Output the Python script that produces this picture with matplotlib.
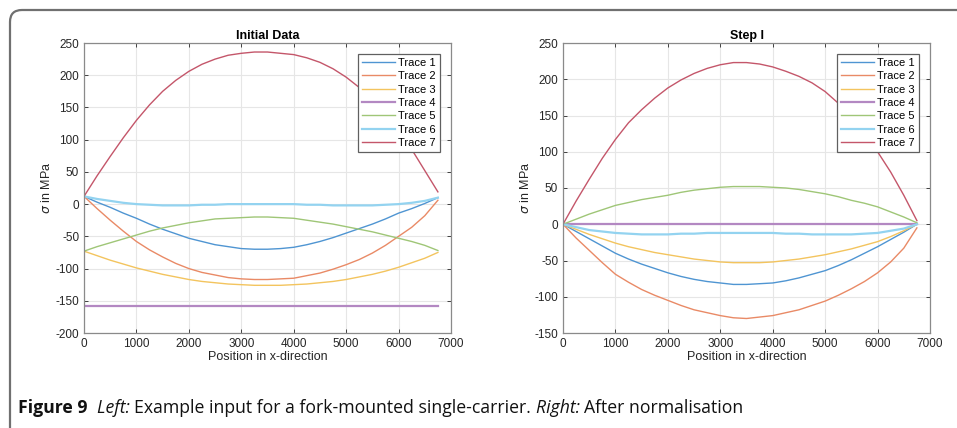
import numpy as np
import matplotlib
matplotlib.use("Agg")
import matplotlib.pyplot as plt
from matplotlib.patches import FancyBboxPatch

plt.rcParams['font.family'] = ['Liberation Sans', 'DejaVu Sans']
plt.rcParams['axes.unicode_minus'] = False

# position along x
x = [0, 250, 500, 750, 1000, 1250, 1500, 1750, 2000, 2250, 2500, 2750, 3000, 3250,
     3500, 3750, 4000, 4250, 4500, 4750, 5000, 5250, 5500, 5750, 6000, 6250, 6500, 6750]

# left panel: Initial Data
init_t1 = [12, 3, -5, -14, -22, -31, -39, -46, -53, -58, -63, -66, -69, -70,
           -70, -69, -67, -63, -58, -52, -45, -38, -31, -23, -14, -7, 1, 10]
init_t2 = [12, -7, -25, -42, -58, -71, -82, -92, -100, -106, -110, -114, -116, -117,
           -117, -116, -115, -111, -107, -101, -94, -86, -76, -64, -50, -36, -18, 6]
init_t3 = [-73, -80, -87, -93, -99, -104, -109, -113, -117, -120, -122, -124, -125, -126,
           -126, -126, -125, -124, -122, -120, -117, -113, -109, -104, -98, -91, -84, -75]
init_t4 = [-158] * 28
init_t5 = [-73, -66, -60, -54, -48, -42, -37, -33, -29, -26, -23, -22, -21, -20,
           -20, -21, -22, -25, -28, -31, -35, -39, -43, -48, -53, -58, -64, -72]
init_t6 = [12, 8, 5, 2, 0, -1, -2, -2, -2, -1, -1, 0, 0, 0,
           0, 0, 0, -1, -1, -2, -2, -2, -2, -1, 0, 2, 5, 10]
init_t7 = [12, 44, 74, 103, 130, 154, 175, 192, 206, 217, 225, 231, 234, 236,
           236, 234, 232, 227, 220, 210, 197, 181, 162, 140, 114, 85, 52, 19]

# right panel: Step I
step_t1 = [0, -10, -20, -30, -40, -48, -55, -61, -67, -72, -76, -79, -81, -83,
           -83, -82, -81, -78, -74, -69, -64, -57, -49, -40, -31, -21, -11, 0]
step_t2 = [0, -19, -36, -53, -69, -80, -90, -98, -105, -112, -118, -122, -126, -129,
           -130, -128, -126, -122, -118, -112, -106, -98, -89, -79, -67, -52, -33, -5]
step_t3 = [0, -7, -14, -20, -26, -31, -35, -39, -42, -45, -48, -50, -52, -53,
           -53, -53, -52, -50, -48, -45, -42, -38, -34, -29, -24, -17, -9, 0]
step_t4 = [0] * 28
step_t5 = [0, 7, 14, 20, 26, 30, 34, 37, 40, 44, 47, 49, 51, 52,
           52, 52, 51, 50, 48, 45, 42, 38, 33, 29, 24, 17, 10, 2]
step_t6 = [0, -4, -8, -10, -12, -13, -14, -14, -14, -13, -13, -12, -12, -12,
           -12, -12, -12, -13, -13, -14, -14, -14, -14, -13, -12, -9, -6, 0]
step_t7 = [0, 32, 62, 91, 117, 140, 158, 174, 188, 199, 208, 215, 220, 223,
           223, 221, 217, 211, 204, 195, 183, 167, 146, 123, 100, 72, 40, 5]

labels = ['Trace 1', 'Trace 2', 'Trace 3', 'Trace 4', 'Trace 5', 'Trace 6', 'Trace 7']
colors = ['#4f95d2', '#e98a66', '#f3c45e', '#b388c2', '#9fc677', '#93d3f0', '#c4566a']
widths = [1.0, 1.0, 1.0, 1.6, 1.0, 1.6, 1.0]

fig = plt.figure(figsize=(9.57, 4.28), dpi=100)

# rounded frame around the figure panel
frame = FancyBboxPatch((10, -60), 1100, 478, boxstyle="round,pad=0,rounding_size=12",
                       transform=None, facecolor='none', edgecolor='#707070', linewidth=1.6)
fig.patches.append(frame)


def panel(left, data, title, ylim, yticks):
    ax = fig.add_axes([left / 957, (428 - 333) / 428, 367 / 957, 290 / 428])
    for n, y in enumerate(data):
        ax.plot(x, y, color=colors[n], linewidth=widths[n], label=labels[n])
    ax.set_xlim(0, 7000)
    ax.set_ylim(*ylim)
    ax.set_xticks(np.arange(0, 7001, 1000))
    ax.set_yticks(yticks)
    ax.grid(True, color='#e6e6e6', linewidth=0.8)
    ax.set_axisbelow(True)
    ax.tick_params(direction='in', top=True, right=True, labelsize=8.5,
                   colors='#262626', length=3, width=0.6)
    for s in ax.spines.values():
        s.set_color('#8a8a8a')
        s.set_linewidth(0.9)
    ax.set_title(title, fontsize=9, fontweight='bold', pad=3)
    ax.set_xlabel('Position in x-direction', fontsize=9, labelpad=1, color='#262626')
    ax.set_ylabel(r'$\sigma$ in MPa', fontsize=9, labelpad=2, color='#262626')
    leg = ax.legend(loc='upper right', bbox_to_anchor=(1 - 11 / 367, 1 - 11 / 290),
                    borderaxespad=0, fontsize=8, handlelength=3.0, labelspacing=0.3,
                    fancybox=False, framealpha=1, edgecolor='#606060',
                    borderpad=0.35, handletextpad=0.3)
    leg.get_frame().set_linewidth(0.9)
    return ax


panel(84, [init_t1, init_t2, init_t3, init_t4, init_t5, init_t6, init_t7],
      'Initial Data', (-200, 250), np.arange(-200, 251, 50))
panel(563, [step_t1, step_t2, step_t3, step_t4, step_t5, step_t6, step_t7],
      'Step I', (-150, 250), np.arange(-150, 251, 50))

# caption built from pieces
renderer = fig.canvas.get_renderer()
parts = [('Figure 9', 'bold', 'normal', '  '), ('Left:', 'normal', 'italic', ' '),
         ('Example input for a fork-mounted single-carrier.', 'normal', 'normal', ' '),
         ('Right:', 'normal', 'italic', ' '), ('After normalisation', 'normal', 'normal', '')]
xpos = 18
for txt, wt, st, gap in parts:
    t = fig.text(xpos / 957, 1 - 408 / 428, txt + gap, fontsize=12.7, fontweight=wt,
                 style=st, family='Open Sans', va='center', ha='left', color='#111111')
    bb = t.get_window_extent(renderer)
    xpos += bb.width

fig.savefig('out.png', dpi=100)
